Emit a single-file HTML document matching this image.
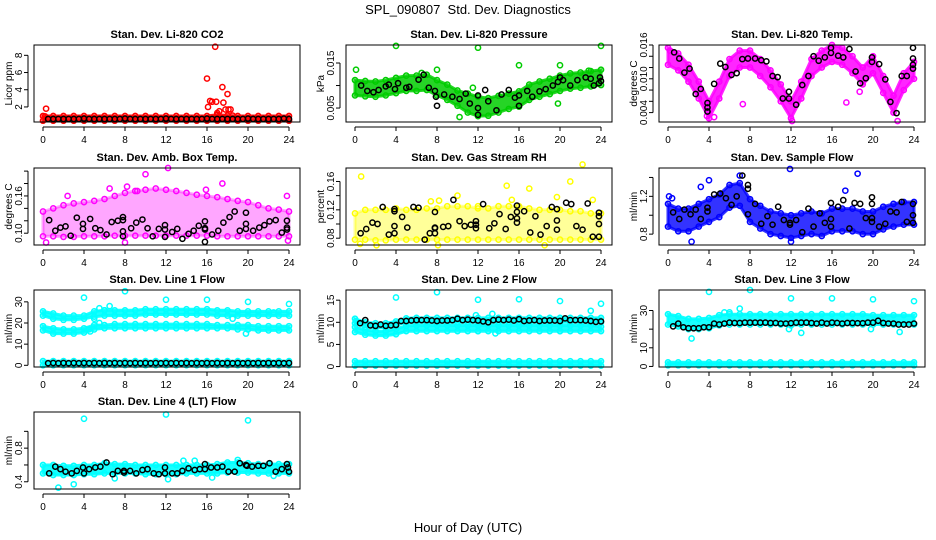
<!DOCTYPE html>
<html><head><meta charset="utf-8"><style>
html,body{margin:0;padding:0;background:#fff;}
svg{display:block;font-family:"Liberation Sans",Arial,sans-serif;}
</style></head><body>
<svg id="fig" width="936" height="540" viewBox="0 0 936 540" xmlns="http://www.w3.org/2000/svg">
<rect x="0" y="0" width="936" height="540" fill="#fff"/>
<text x="468" y="14" font-size="13" text-anchor="middle">SPL_090807&#160; Std. Dev. Diagnostics</text>
<text x="468" y="532" font-size="13" text-anchor="middle">Hour of Day (UTC)</text>
</svg>
<script>
const hours=[0,1,2,3,4,5,6,7,8,9,10,11,12,13,14,15,16,17,18,19,20,21,22,23,24];
const halfHours=[0.5,1,1.5,2,2.5,3,3.5,4,4.5,5,5.5,6,6.5,7,7.5,8,8.5,9,9.5,10,10.5,11,11.5,12,12.5,13,13.5,14,14.5,15,15.5,16,16.5,17,17.5,18,18.5,19,19.5,20,20.5,21,21.5,22,22.5,23,23.5,24];
const xTicks=[0,4,8,12,16,20,24];

// CO2
const co2Hi=[0.95,0.95,0.95,0.95,0.95,0.95,0.95,0.95,0.95,0.95,0.95,0.95,0.95,0.95,0.95,0.95,0.95,1.1,1.0,0.95,0.95,0.95,0.95,0.95,0.95];
const co2Lo=[0.4,0.4,0.4,0.4,0.4,0.4,0.4,0.4,0.4,0.4,0.4,0.4,0.4,0.4,0.4,0.4,0.4,0.4,0.4,0.4,0.4,0.4,0.4,0.4,0.4];
const co2OutX=[0.3,0.2,16,16.1,16.3,16.5,16.8,16.9,17,17.2,17.5,17.6,17.8,18,18.1,18.3,18.5];
const co2OutY=[1.8,0.9,5.3,2.0,2.7,2.6,9.0,2.6,1.3,1.5,4.3,2.5,1.7,3.5,1.7,1.7,1.0];
const co2Blk=[0.6,0.6,0.6,0.6,0.6,0.6,0.6,0.65,0.6,0.6,0.6,0.6,0.6,0.6,0.6,0.65,0.6,0.6,0.6,0.6,0.6,0.6,0.6,0.65,0.6,0.6,0.6,0.6,0.6,0.6,0.6,0.65,0.6,0.6,0.6,0.6,0.6,0.6,0.6,0.65,0.6,0.6,0.6,0.6,0.6,0.6,0.65,0.6];

// Pressure
const presHi=[0.0112,0.0110,0.0109,0.0112,0.0117,0.0122,0.0122,0.0124,0.0112,0.0102,0.0089,0.0082,0.0075,0.0072,0.0077,0.0082,0.0087,0.0102,0.0109,0.0115,0.0122,0.0127,0.0129,0.0132,0.0135];
const presLo=[0.0078,0.0076,0.0075,0.0078,0.0083,0.0088,0.0088,0.0090,0.0078,0.0068,0.0055,0.0040,0.0032,0.0033,0.0040,0.0048,0.0053,0.0068,0.0075,0.0081,0.0088,0.0093,0.0095,0.0098,0.0101];
const presOutX=[0.1,4,8,12,16,20,24,22.8,6.5,11.5,10.2,19.8];
const presOutY=[0.0135,0.0188,0.0135,0.0184,0.0145,0.0145,0.0188,0.0133,0.0128,0.0095,0.0030,0.0060];
const presBlkX=[0.6,1.2,1.8,2.3,3,3.3,3.9,4.2,5,5.3,6.2,6.7,7.2,7.8,7.9,8,8.7,9.5,10.2,10.8,11.2,12,12,12,12.7,13,13.8,14.3,15,15.6,16,16,16.8,17.3,18,18.6,19.3,19.8,20,20.3,21,21.7,22.5,23,23.3,23.8,23.9,24];
const presBlkY=[0.0100,0.0088,0.0085,0.0090,0.0098,0.0102,0.0092,0.0105,0.0095,0.0097,0.0113,0.0124,0.0095,0.0088,0.0075,0.0055,0.0080,0.0075,0.0070,0.0082,0.0060,0.0078,0.0050,0.0035,0.0090,0.0065,0.0045,0.0080,0.0090,0.0073,0.0055,0.0078,0.0088,0.0075,0.0087,0.0092,0.0100,0.0108,0.0118,0.0112,0.0100,0.0112,0.0118,0.0115,0.0100,0.0105,0.0118,0.0110];

// Li-820 temp
const tempHi=[0.0155,0.0145,0.0125,0.0095,0.006,0.0095,0.0135,0.015,0.015,0.0135,0.0115,0.009,0.006,0.0095,0.0135,0.015,0.016,0.0155,0.014,0.012,0.014,0.0105,0.007,0.011,0.013];
const tempLo=[0.0125,0.0115,0.0095,0.0065,0.003,0.0065,0.0105,0.012,0.012,0.0105,0.0085,0.006,0.003,0.0065,0.0105,0.012,0.013,0.0125,0.011,0.009,0.011,0.0075,0.004,0.008,0.01];
const tempOutX=[4.5,3.8,7.3,12.1,17.4,19.7,22.4,18.7,0.2];
const tempOutY=[0.0032,0.0034,0.0055,0.0025,0.0058,0.0126,0.0025,0.0077,0.0150];
const tempBlkX=[0.6,1.1,1.6,2.1,2.7,3.2,3.85,3.85,3.85,4.5,5.1,5.6,6.2,6.7,7.25,7.8,8.5,9.1,9.6,10.2,10.7,11.2,11.8,11.8,12.5,13.1,13.7,14.2,14.7,15.3,15.9,15.9,16.6,17.1,17.7,18.3,18.75,19.3,19.9,19.9,20.6,21.2,21.7,22.3,22.8,23.3,23.9,23.9,23.9,23.9];
const tempBlkY=[0.0147,0.0136,0.0111,0.0118,0.0073,0.0082,0.0057,0.0049,0.0042,0.0091,0.0127,0.0121,0.0107,0.0110,0.0135,0.0136,0.0136,0.0133,0.0131,0.0105,0.0103,0.0065,0.0065,0.0077,0.0054,0.0089,0.0105,0.0140,0.0132,0.0138,0.0146,0.0155,0.0141,0.0138,0.0153,0.0113,0.0092,0.0101,0.0130,0.0138,0.0126,0.0099,0.0059,0.0039,0.0105,0.0105,0.0155,0.0136,0.0125,0.0118];

// Ambient box temp
const ambHi=[0.135,0.14,0.145,0.148,0.15,0.152,0.155,0.16,0.165,0.168,0.17,0.172,0.17,0.168,0.165,0.162,0.16,0.158,0.155,0.152,0.15,0.145,0.14,0.138,0.135];
const ambLo=[0.095,0.095,0.094,0.094,0.095,0.095,0.095,0.096,0.096,0.096,0.096,0.096,0.096,0.096,0.096,0.096,0.096,0.095,0.095,0.095,0.095,0.095,0.095,0.095,0.095];
const ambOutX=[0.3,8.2,10,12.2,15.9,17.5,23.8,8,23.9,6.5,9.2,2.4];
const ambOutY=[0.085,0.175,0.195,0.205,0.17,0.18,0.16,0.085,0.088,0.172,0.168,0.16];
const ambBlkX=[0.6,1.2,1.7,2.2,2.7,3.3,3.9,3.9,4.6,5.1,5.6,6.2,6.7,7.3,7.8,7.8,7.8,7.8,8.6,9.1,9.7,10.2,10.7,11.3,11.9,11.9,11.9,12.6,13.1,13.6,14.2,14.7,15.2,15.8,15.8,15.8,15.8,16.5,17.1,17.6,18.2,18.7,19.2,19.8,19.8,19.8,20.5,21.1,21.6,22.1,22.7,23.3,23.8,23.8,23.8];
const ambBlkY=[0.121,0.104,0.109,0.111,0.096,0.125,0.115,0.107,0.123,0.108,0.105,0.098,0.118,0.120,0.121,0.126,0.103,0.095,0.108,0.117,0.122,0.108,0.095,0.107,0.113,0.106,0.094,0.102,0.107,0.091,0.099,0.104,0.112,0.119,0.108,0.106,0.086,0.098,0.104,0.117,0.126,0.135,0.104,0.107,0.133,0.115,0.104,0.109,0.113,0.119,0.121,0.101,0.109,0.120,0.106];

// Gas stream RH
const rhHi=[0.115,0.12,0.12,0.12,0.122,0.12,0.12,0.122,0.122,0.125,0.125,0.125,0.122,0.122,0.125,0.125,0.125,0.122,0.12,0.12,0.12,0.118,0.118,0.115,0.115];
const rhLo=[0.078,0.078,0.077,0.077,0.078,0.078,0.078,0.078,0.078,0.078,0.078,0.078,0.078,0.078,0.078,0.078,0.078,0.078,0.078,0.078,0.078,0.078,0.078,0.078,0.078];
const rhOutX=[0.6,0.5,2.1,7.4,8.2,8.1,10,12,14.8,15.3,17,19.7,21,22.2,23.2,18.5];
const rhOutY=[0.167,0.072,0.07,0.132,0.133,0.07,0.14,0.125,0.154,0.134,0.15,0.138,0.16,0.184,0.134,0.07];
const rhBlkX=[0.55,1.1,1.7,2.2,2.7,3.3,3.85,3.85,3.85,3.85,4.6,5.1,5.7,6.2,6.8,7.3,7.8,7.8,7.8,7.8,8.6,9.1,9.6,10.2,10.7,11.3,11.8,11.8,11.8,12.5,13.1,13.6,14.1,14.7,15.2,15.8,15.8,15.8,15.8,16.5,17.1,17.6,18.1,18.7,19.2,19.7,19.7,19.7,20.6,21.1,21.6,22.2,22.7,23.2,23.8,23.8,23.8,23.8];
const rhBlkY=[0.087,0.093,0.102,0.100,0.124,0.085,0.118,0.121,0.097,0.087,0.110,0.095,0.124,0.123,0.078,0.087,0.117,0.087,0.095,0.094,0.096,0.097,0.134,0.104,0.097,0.099,0.094,0.099,0.104,0.128,0.094,0.101,0.114,0.093,0.110,0.108,0.102,0.117,0.126,0.118,0.088,0.111,0.085,0.097,0.124,0.121,0.105,0.092,0.130,0.128,0.097,0.092,0.129,0.082,0.082,0.116,0.111,0.100];

// Sample flow
const flowHi=[1.12,1.07,1.07,1.12,1.17,1.22,1.32,1.34,1.17,1.10,1.04,1.02,1.00,1.02,1.04,1.02,1.07,1.07,1.07,1.04,1.04,1.09,1.12,1.14,1.14];
const flowLo=[0.88,0.83,0.83,0.88,0.93,0.98,1.08,1.10,0.93,0.86,0.80,0.78,0.76,0.78,0.80,0.78,0.83,0.83,0.83,0.80,0.80,0.85,0.88,0.90,0.90];
const flowOutX=[0.1,2.3,3.2,4,11.9,18.5,17.3,12,0.4,7.0];
const flowOutY=[1.2,0.72,1.3,1.37,1.49,1.44,1.26,0.72,1.18,1.42];
const flowBlkX=[0.5,1.1,1.6,2.2,2.7,3.2,3.85,3.85,4.5,5.1,5.65,6.2,6.7,7.25,7.8,7.8,7.8,8.5,9.1,9.7,10.2,10.75,11.3,11.9,11.9,12.5,13.1,13.7,14.2,14.8,15.3,15.9,15.9,15.9,16.6,17.1,17.7,18.2,18.75,19.3,19.9,19.9,19.9,19.9,20.6,21.2,21.7,22.3,22.8,23.3,23.9,23.9,23.9];
const flowBlkY=[1.03,0.96,1.06,1.01,1.06,0.96,1.08,1.04,1.22,1.23,1.18,1.11,1.2,1.42,1.32,1.28,1.01,1.12,0.91,0.99,0.90,1.09,0.95,0.92,0.90,0.95,0.82,1.07,0.88,1.02,0.92,0.96,1.13,0.88,1.09,1.16,0.86,1.13,1.12,0.97,1.19,1.12,0.97,0.93,0.88,0.91,1.04,1.03,1.14,0.93,1.12,1.0,0.92];

// Line 1 flow
const l1UpHi=[25.5,24.5,23.5,23.5,23.5,25.5,26,26,26,26,26.5,26.5,26.5,26.5,26.5,26.5,26.5,26,26,25.5,25.5,25.5,25.5,25.5,25.5];
const l1UpLo=[23.5,22,21.5,21.5,22,23,23.5,23.5,23.5,23.5,24,24,24,24,24,24,24,23.5,23.5,23.5,23.5,23.5,23.5,23.5,23.5];
const l1MidHi=[18.5,17.5,17,17,17.5,19,19,19.5,19.5,19.5,19.5,19.5,19.5,19.5,19.5,19.5,19.5,19,19,19,19,18.5,18.5,18.5,18.5];
const l1MidLo=[16.5,15,15,15,15.5,17,17.5,17.5,17.5,17.5,17.5,17.5,17.5,17.5,17.5,17.5,17.5,17.5,17.5,17,17,16.5,16.5,16.5,16.5];
const l1BotHi=[2,2,2,2,2,2,2,2,2,2,2,2,2,2,2,2,2,2,2,2,2,2,2,2,2];
const l1BotLo=[0,0,0,0,0,0,0,0,0,0,0,0,0,0,0,0,0,0,0,0,0,0,0,0,0];
const l1OutX=[4,8,12,16,20,24,4.5,4.6,5,5.5,6,6.5,5.5,19.8,20,22.5,18.5];
const l1OutY=[32,35,31,31,30,29,17,16,22,27,26,28,20,15,17,25,22];
const l1Blk=[1,1.1,1,1.1,1,1.1,1,1.1,1,1.1,1,1.1,1,1.1,1,1.1,1,1.1,1,1.1,1,1.1,1,1.1,1,1.1,1,1.1,1,1.1,1,1.1,1,1.1,1,1.1,1,1.1,1,1.1,1,1.1,1,1.1,1,1.1,1,1.1];

// Line 2 flow
const l2UpHi=[10.8,10.0,9.8,9.8,10.2,10.9,11,11,11,11,11,11,11,11,11,11,11,11,11,11,11,11,11,11,11];
const l2UpLo=[9.8,9.0,8.8,8.8,9.4,10,10,10,10,10,10,10,10,10,10,10,10,10,10,10,10,10,10,10,10];
const l2LowHi=[8.9,8.3,8.0,8.0,8.5,9.2,9.3,9.3,9.3,9.3,9.3,9.3,9.3,9.3,9.3,9.3,9.3,9.3,9.3,9.3,9.3,9.3,9.3,9.3,9.0];
const l2LowLo=[7.8,7.2,7.0,7.0,7.3,8.0,8.0,8.0,8.0,8.0,8.0,8.0,8.0,8.0,8.0,8.0,8.0,8.0,8.0,8.0,8.0,8.0,8.0,8.0,8.0];
const l2BotHi=[1.2,1.2,1.2,1.2,1.2,1.2,1.2,1.2,1.2,1.2,1.2,1.2,1.2,1.2,1.2,1.2,1.2,1.2,1.2,1.2,1.2,1.2,1.2,1.2,1.2];
const l2BotLo=[0.2,0.2,0.2,0.2,0.2,0.2,0.2,0.2,0.2,0.2,0.2,0.2,0.2,0.2,0.2,0.2,0.2,0.2,0.2,0.2,0.2,0.2,0.2,0.2,0.2];
const l2OutX=[0.1,4,8,12,16,20,23,24,13.4,12,13.7,20,11.8];
const l2OutY=[10.3,15.6,16.8,15.1,15.2,14.8,12.6,14.2,11.9,8,7.5,8,11.6];
const l2Blk=[9.8,10.5,9.3,9.2,9.5,9.2,9.3,9.4,10.3,10.3,10.4,10.5,10.5,10.5,10.4,10.3,10.4,10.4,10.5,10.8,10.5,10.6,10.5,10.4,10.2,10.0,10.5,10.6,10.5,10.6,10.4,10.7,10.3,10.4,10.5,10.3,10.4,10.4,10.4,10.3,10.9,10.5,10.5,10.5,10.4,10.3,10.1,10.2];

// Line 3 flow
const l3UpHi=[28,27,25.5,25.5,26,27.5,28,28,28,28,28,28,28,28,28,28,28,28,28,28,27.5,27.5,27.5,27.5,27.5];
const l3UpLo=[22.5,21.5,20,20,20.5,22,22.5,22.5,22.5,22.5,22.5,22.5,22,22.5,22.5,22.5,22.5,22.5,22.5,22.5,22.5,22.5,22.5,22.5,22.5];
const l3BotHi=[2.2,2.2,2.2,2.2,2.2,2.2,2.2,2.2,2.2,2.2,2.2,2.2,2.2,2.2,2.2,2.2,2.2,2.2,2.2,2.2,2.2,2.2,2.2,2.2,2.2];
const l3BotLo=[0.6,0.6,0.6,0.6,0.6,0.6,0.6,0.6,0.6,0.6,0.6,0.6,0.6,0.6,0.6,0.6,0.6,0.6,0.6,0.6,0.6,0.6,0.6,0.6,0.6];
const l3OutX=[4,8,12,16,20,24,5.5,6,7,2.3,13,22.6,11.8,19.8];
const l3OutY=[40,41,36.5,36.5,36,35,29,29,31,15,18,18.5,20,20];
const l3Blk=[21.5,23,21,20.5,20.5,20.5,21,21,23,22.5,23,23.5,23.3,23.3,23.5,23.5,23.5,23.5,23.5,23.3,23.3,23,23,23.2,23.5,23.5,23.5,23.3,23,23.5,23,23.5,23.3,23,23.3,23.3,23.2,23.2,23.5,23.5,24.5,23.3,23,23,22.5,22.5,22.5,23];

// Line 4 flow
const l4Hi=[0.6,0.6,0.59,0.59,0.6,0.6,0.62,0.61,0.61,0.6,0.6,0.6,0.6,0.6,0.6,0.6,0.6,0.61,0.63,0.63,0.62,0.61,0.61,0.61,0.61];
const l4Lo=[0.5,0.48,0.48,0.48,0.49,0.49,0.5,0.5,0.5,0.5,0.49,0.49,0.49,0.49,0.5,0.5,0.5,0.5,0.51,0.51,0.51,0.5,0.5,0.5,0.5];
const l4OutX=[4,12,20,1.5,3,12.2,7,13.7,14.8,19,16.5,22.5];
const l4OutY=[1.15,1.2,1.13,0.33,0.37,0.43,0.44,0.65,0.65,0.66,0.45,0.47];
const l4BlkX=[0.6,1.2,1.7,2.2,2.8,3.3,3.9,4,4.5,5.1,5.6,6.2,6.8,7.3,7.9,7.9,8.5,9.1,9.7,10.2,10.8,11.3,11.9,11.9,12.6,13.1,13.6,14.2,14.8,15.3,15.8,15.8,16.4,17,17.5,18.1,18.7,19.2,19.8,19.9,20.4,21,21.5,22.1,22.7,23.3,23.8,23.9,24];
const l4BlkY=[0.5,0.58,0.55,0.52,0.5,0.53,0.57,0.5,0.55,0.57,0.58,0.63,0.49,0.53,0.53,0.51,0.53,0.5,0.54,0.55,0.5,0.49,0.5,0.57,0.5,0.5,0.53,0.56,0.54,0.55,0.55,0.61,0.57,0.57,0.58,0.52,0.52,0.62,0.6,0.59,0.58,0.59,0.59,0.62,0.52,0.55,0.61,0.57,0.52];

const NS='http://www.w3.org/2000/svg';
const svg=document.getElementById('fig');
const colLeft=[34,346,659], rowTop=[45,168,290,412], boxW=266, boxH=77;

function mk(tag,attrs,parent){const e=document.createElementNS(NS,tag);for(const k in attrs)e.setAttribute(k,attrs[k]);parent.appendChild(e);return e;}

const panels=[
 {key:'co2',title:'Stan. Dev. Li-820 CO2',ylab:'Licor ppm',c:0,r:0,dom:[0.25,9.2],ticks:[2,4,6,8],labs:['2','4','6','8'],col:'#ff0000',op:0.9,bands:[[co2Hi,co2Lo]],ox:co2OutX,oy:co2OutY,bx:halfHours,by:co2Blk},
 {key:'pressure',title:'Stan. Dev. Li-820 Pressure',ylab:'kPa',c:1,r:0,dom:[0.0019,0.019],ticks:[0.005,0.010,0.015],labs:['0.005','','0.015'],col:'#00cc00',op:0.85,bands:[[presHi,presLo]],ox:presOutX,oy:presOutY,bx:presBlkX,by:presBlkY},
 {key:'li820-temp',title:'Stan. Dev. Li-820 Temp.',ylab:'degrees C',c:2,r:0,dom:[0.00233,0.016],ticks:[0.004,0.006,0.008,0.010,0.012,0.014,0.016],labs:['0.004','','','0.010','','','0.016'],col:'#ff00ff',op:0.85,bands:[[tempHi,tempLo]],ox:tempOutX,oy:tempOutY,bx:tempBlkX,by:tempBlkY},
 {key:'amb-temp',title:'Stan. Dev. Amb. Box Temp.',ylab:'degrees C',c:0,r:1,dom:[0.081,0.205],ticks:[0.10,0.12,0.14,0.16,0.18,0.20],labs:['0.10','','','0.16','',''],col:'#ff00ff',op:0.35,bands:[[ambHi,ambLo]],ox:ambOutX,oy:ambOutY,bx:ambBlkX,by:ambBlkY},
 {key:'rh',title:'Stan. Dev. Gas Stream RH',ylab:'percent',c:1,r:1,dom:[0.0704,0.179],ticks:[0.08,0.10,0.12,0.14,0.16],labs:['0.08','','0.12','','0.16'],col:'#ffff00',op:0.4,bands:[[rhHi,rhLo]],ox:rhOutX,oy:rhOutY,bx:rhBlkX,by:rhBlkY},
 {key:'sample-flow',title:'Stan. Dev. Sample Flow',ylab:'ml/min',c:2,r:1,dom:[0.685,1.5],ticks:[0.8,1.0,1.2,1.4],labs:['0.8','','1.2',''],col:'#0000ff',op:0.8,bands:[[flowHi,flowLo]],ox:flowOutX,oy:flowOutY,bx:flowBlkX,by:flowBlkY},
 {key:'line1',title:'Stan. Dev. Line 1 Flow',ylab:'ml/min',c:0,r:2,dom:[-0.8,35.6],ticks:[0,10,20,30],labs:['0','10','20','30'],col:'#00ffff',op:0.9,bands:[[l1UpHi,l1UpLo],[l1MidHi,l1MidLo],[l1BotHi,l1BotLo]],ox:l1OutX,oy:l1OutY,bx:halfHours,by:l1Blk},
 {key:'line2',title:'Stan. Dev. Line 2 Flow',ylab:'ml/min',c:1,r:2,dom:[-0.1,17.3],ticks:[0,5,10,15],labs:['0','5','10','15'],col:'#00ffff',op:0.9,bands:[[l2UpHi,l2UpLo],[l2LowHi,l2LowLo],[l2BotHi,l2BotLo]],ox:l2OutX,oy:l2OutY,bx:halfHours,by:l2Blk},
 {key:'line3',title:'Stan. Dev. Line 3 Flow',ylab:'ml/min',c:2,r:2,dom:[-0.3,41],ticks:[0,10,20,30],labs:['0','10','','30'],col:'#00ffff',op:0.9,bands:[[l3UpHi,l3UpLo],[l3BotHi,l3BotLo]],ox:l3OutX,oy:l3OutY,bx:halfHours,by:l3Blk},
 {key:'line4',title:'Stan. Dev. Line 4 (LT) Flow',ylab:'ml/min',c:0,r:3,dom:[0.314,1.23],ticks:[0.4,0.6,0.8,1.0],labs:['0.4','','0.8',''],col:'#00ffff',op:0.9,bands:[[l4Hi,l4Lo]],ox:l4OutX,oy:l4OutY,bx:l4BlkX,by:l4BlkY}
];

panels.forEach(p=>{
  const L=colLeft[p.c], T=rowTop[p.r], B=T+boxH;
  const xs=h=>L+9+h*(246/24);
  const ys=v=>B-(v-p.dom[0])/(p.dom[1]-p.dom[0])*boxH;
  const g=mk('g',{},svg);
  
  
  const ttl=mk('text',{x:L+boxW/2,y:T-7,'font-size':11,'font-weight':'bold','text-anchor':'middle'},g);
  ttl.textContent=p.title;
  
  
  const plot=mk('g',{},g);
  
  
  p.bands.forEach((bd,bi)=>{
    const hi=bd[0], lo=bd[1];
    let d='';
    hours.forEach((h,i)=>{d+=(i?'L':'M')+xs(h).toFixed(1)+' '+ys(hi[i]).toFixed(1);});
    for(let i=hours.length-1;i>=0;i--){d+='L'+xs(hours[i]).toFixed(1)+' '+ys(lo[i]).toFixed(1);}
    d+='Z';
    const band=mk('path',{d:d,fill:p.col,'fill-opacity':p.op,stroke:p.col,'stroke-width':3,'stroke-opacity':p.op},plot);
    
    
    hours.forEach((h,i)=>{
      [hi[i],lo[i]].forEach(v=>{
        const c=mk('circle',{cx:xs(h),cy:ys(v),r:2.6,fill:'none',stroke:p.col,'stroke-width':1.5},plot);
        
        
      });
    });
  });
  p.ox.forEach((x,i)=>{
    const c=mk('circle',{cx:xs(x),cy:ys(p.oy[i]),r:2.6,fill:'none',stroke:p.col,'stroke-width':1.5},plot);
    
    
  });
  p.bx.forEach((x,i)=>{
    const c=mk('circle',{cx:xs(x),cy:ys(p.by[i]),r:2.6,fill:'none',stroke:'#000','stroke-width':1.5},plot);
    
    
  });
  const box=mk('rect',{x:L,y:T,width:boxW,height:boxH,fill:'none',stroke:'#000','stroke-width':1},g);
  
  
  const xa=mk('g',{},g);
  
  
  mk('line',{x1:xs(0),x2:xs(24),y1:B+5,y2:B+5,stroke:'#000'},xa);
  xTicks.forEach(t=>{
    mk('line',{x1:xs(t),x2:xs(t),y1:B+5,y2:B+9,stroke:'#000'},xa);
    const tx=mk('text',{x:xs(t),y:B+21,'font-size':10,'text-anchor':'middle'},xa);
    tx.textContent=String(t);
  });
  const ya=mk('g',{},g);
  
  
  const t0=ys(p.ticks[0]), t1=ys(p.ticks[p.ticks.length-1]);
  mk('line',{x1:L-6,x2:L-6,y1:t0,y2:t1,stroke:'#000'},ya);
  p.ticks.forEach((t,i)=>{
    const y=ys(t);
    mk('line',{x1:L-10,x2:L-6,y1:y,y2:y,stroke:'#000'},ya);
    if(p.labs[i]){
      const tx=mk('text',{x:L-12,y:y,'font-size':10,'text-anchor':'middle',transform:'rotate(-90 '+(L-12)+' '+y+')'},ya);
      tx.textContent=p.labs[i];
    }
  });
  const yl=mk('text',{x:L-22,y:T+boxH/2,'font-size':10,'text-anchor':'middle',transform:'rotate(-90 '+(L-22)+' '+(T+boxH/2)+')'},g);
  yl.textContent=p.ylab;
  
  
});
</script>
</body></html>
